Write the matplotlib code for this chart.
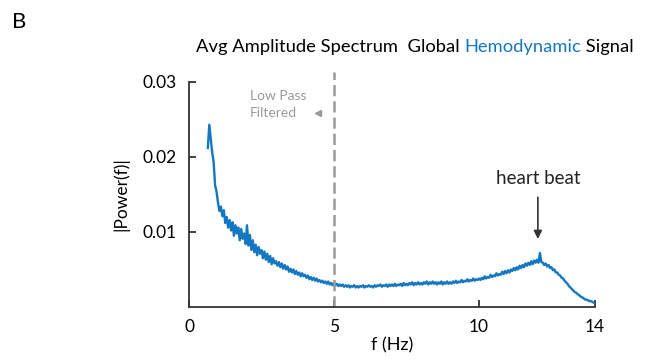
import matplotlib
matplotlib.use("Agg")
import matplotlib.pyplot as plt
import numpy as np

power_e3 = [
    21.2, 24.3, 22.4, 20.6, 19.3, 16.2, 15.4,
    13.9, 12.8, 13.4, 12.1, 12.9, 11.2, 12.0, 10.6, 11.6, 10.2, 11.3, 9.5, 10.9, 9.8, 10.6, 8.9, 10.4, 9.1, 9.8, 8.4,
    10.9, 8.2, 9.6, 7.6, 8.9, 7.3, 8.3, 6.9, 8.0, 7.1, 7.6, 6.5, 7.4, 6.3, 7.1, 6.0, 6.8, 5.7, 6.5, 5.8,
    6.1, 5.5, 6.0, 5.3, 5.8, 5.1, 5.6, 5.0, 5.4, 4.7, 5.1, 4.6, 5.0, 4.4, 4.8, 4.3, 4.6, 4.1, 4.5, 4.1,
    4.3, 3.9, 4.2, 3.7, 4.0, 3.6, 3.9, 3.5, 3.8, 3.4, 3.6, 3.3, 3.5, 3.2, 3.4, 3.1, 3.4, 3.0, 3.2, 2.9,
    3.2, 2.9, 3.1, 2.8, 3.0, 2.8, 3.0, 2.7, 2.9, 2.7, 2.9, 2.6, 2.8, 2.7, 2.9, 2.6, 2.8, 2.6, 2.8, 2.7,
    2.9, 2.6, 2.8, 2.7, 2.9, 2.7, 2.8, 2.6, 2.9, 2.7, 2.9, 2.8, 3.0, 2.7, 2.9, 2.8, 3.0, 2.7, 3.0, 2.8,
    3.0, 2.8, 3.1, 2.8, 3.0, 2.9, 3.1, 2.8, 3.2, 2.9, 3.1, 2.9, 3.2, 3.0, 3.3, 2.9, 3.2, 3.0, 3.3, 3.0,
    3.2, 3.0, 3.3, 3.1, 3.4, 3.0, 3.3, 3.1, 3.4, 3.1, 3.3, 3.0, 3.3, 3.1, 3.4, 3.0, 3.3, 3.1, 3.4, 3.1,
    3.3, 3.1, 3.4, 3.2, 3.5, 3.2, 3.4, 3.3, 3.6, 3.3, 3.5, 3.4, 3.7, 3.4, 3.6, 3.5, 3.8, 3.5, 3.7, 3.6,
    3.8, 3.6, 3.9, 3.7, 4.1, 3.8, 4.0, 3.9, 4.3, 4.0, 4.2, 4.1, 4.5, 4.2, 4.4, 4.3, 4.7, 4.4, 4.8, 4.5,
    4.9, 4.6, 5.0, 4.8, 5.2, 4.9, 5.3, 5.0, 5.5, 5.2, 5.6, 5.3, 5.8, 5.5, 5.9, 5.6, 6.1, 5.7, 6.2, 5.9,
    6.3, 5.9, 7.2, 6.0, 5.9, 5.6, 5.8, 5.4, 5.6, 5.2, 5.3, 4.9, 5.0, 4.6, 4.6, 4.3, 4.2, 3.9, 3.8, 3.5,
    3.3, 3.1, 2.8, 2.6, 2.4, 2.2, 2.0, 1.9, 1.7, 1.6, 1.4, 1.3, 1.2, 1.0, 1.0, 0.9, 0.8, 0.8, 0.7, 0.6,
    0.5,
]
f_start, f_step = 0.65, 0.05
x_ticks = [0, 5, 10, 14]
y_ticks = [0.01, 0.02, 0.03]
cutoff_hz = 5
heart_hz = 12.03

power = np.array(power_e3) * 1e-3
freq = f_start + f_step * np.arange(len(power))

blue = '#1477c2'
grey = '#999999'
dark = '#333333'
plt.rcParams['font.family'] = ['Lato', 'DejaVu Sans']

fig = plt.figure(figsize=(6.49, 3.62), dpi=100)
ax = fig.add_axes([189/649, 1-307/362, (595-189)/649, (307-82)/362])

ax.plot(freq, power, color=blue, lw=1.7)
ax.plot([cutoff_hz, cutoff_hz], [0, 0.0313], color=grey, lw=1.8, ls=(0, (4.5, 2)), clip_on=False)

ax.set_xlim(0, 14)
ax.set_ylim(0, 0.03)
ax.set_xticks(x_ticks)
ax.set_yticks(y_ticks)
ax.set_xticklabels([str(t) for t in x_ticks], fontsize=12.5)
ax.set_yticklabels(['%.2f' % t for t in y_ticks], fontsize=12.5)
ax.tick_params(direction='in', length=5, width=1.3, color=dark, pad=9)
for s in ['top', 'right']:
    ax.spines[s].set_visible(False)
for s in ['left', 'bottom']:
    ax.spines[s].set_color(dark)
    ax.spines[s].set_linewidth(1.3)

ax.set_xlabel('f (Hz)', fontsize=13, labelpad=1)
ax.set_ylabel('|Power(f)|', fontsize=12.5, labelpad=9)

# annotations
ax.text(2.1, 0.0281, 'Low Pass', color=grey, fontsize=10, va='center', ha='left')
ax.text(2.1, 0.0259, 'Filtered', color=grey, fontsize=10, va='center', ha='left')
ax.plot([4.45], [0.0259], marker='<', color=grey, ms=5, clip_on=False)
ax.annotate('', xy=(heart_hz, 0.0087), xytext=(heart_hz, 0.0150),
            arrowprops=dict(arrowstyle='-|>', color=dark, lw=1.2, mutation_scale=12))
ax.text(heart_hz, 0.0171, 'heart beat', color='#222222', fontsize=13.5, ha='center', va='center')

# panel letter and multi-colour title
fig.text(12/649, 1-22/362, 'B', fontsize=16, va='center', ha='left')
pieces = [('Avg Amplitude Spectrum  Global ', 'black'), ('Hemodynamic', blue), (' Signal', 'black')]
fig.canvas.draw()
renderer = fig.canvas.get_renderer()
x = 196
for txt, col in pieces:
    t = fig.text(x/649, 1-47/362, txt, fontsize=13.2, color=col, va='center', ha='left')
    x += t.get_window_extent(renderer).width

fig.savefig('out.png', dpi=100)
